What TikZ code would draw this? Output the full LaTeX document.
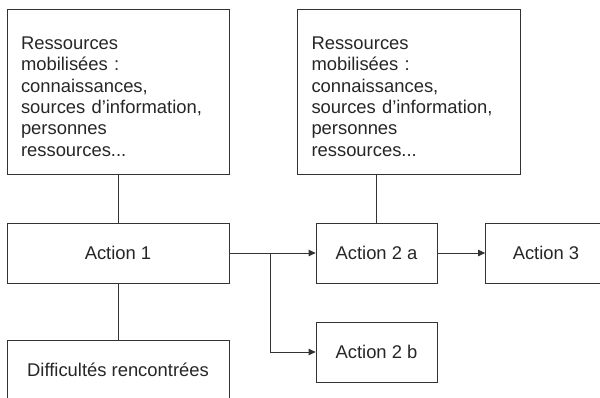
\documentclass[tikz,border=0pt]{standalone}
\usepackage{fontspec}
\setmainfont{Liberation Sans}
\usetikzlibrary{arrows.meta}

\tikzset{
  box/.style={draw=black!80, line width=0.8pt, text=black!85,
    font=\fontsize{18.4}{21.4}\selectfont, minimum height=60pt},
  resbox/.style={box, minimum width=222pt, minimum height=165pt,
    text width=194pt, inner xsep=14pt, inner ysep=0pt, align=left,
    text depth=97pt},
  actbox/.style={box, minimum width=121pt},
  link/.style={draw=black!80, line width=0.8pt},
  arr/.style={link, -{Triangle[length=7pt,width=6.5pt]}}
}

\begin{document}
\begin{tikzpicture}[x=1pt,y=-1pt]

  \useasboundingbox (0,0) rectangle (600,398);
  \clip (0,0) rectangle (600,398);

  % Resources boxes
  \node[resbox] (res1) at (118,91.5) {Ressources\\mobilisées :\\connaissances,\\sources d’information,\\personnes\\ressources...};
  \node[resbox, minimum width=223pt] (res2) at (408.5,91.5) {Ressources\\mobilisées :\\connaissances,\\sources d’information,\\personnes\\ressources...};

  % Actions
  \node[box, minimum width=222pt] (act1) at (118,253) {Action 1};
  \node[actbox] (act2a) at (376.5,253) {Action 2 a};
  \node[actbox] (act3) at (546,253) {Action 3};
  \node[actbox] (act2b) at (376.5,352) {Action 2 b};

  % Difficulties
  \node[box, minimum width=222pt] (diff) at (118,370) {Difficultés rencontrées};

  % Vertical links
  \draw[link] (res1.south) -- (act1.north);
  \draw[link] (act1.south) -- (diff.north);
  \draw[link] (act2a.north) -- (act2a.north |- res2.south);

  % Arrows
  \coordinate (split) at (270,253);
  \draw[arr] (act1.east) -- (act2a.west);
  \draw[arr] (split) |- (act2b.west);
  \draw[arr] (act2a.east) -- (act3.west);

\end{tikzpicture}
\end{document}
